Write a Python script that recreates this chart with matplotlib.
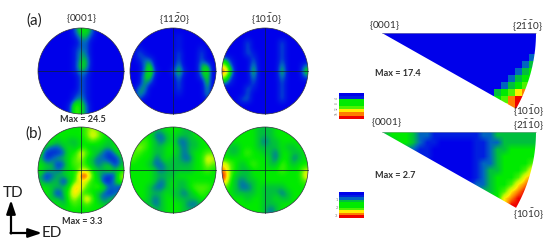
import matplotlib
matplotlib.use("Agg")
import numpy as np
import matplotlib.pyplot as plt
from matplotlib.colors import LinearSegmentedColormap
from matplotlib.patches import Circle, Polygon

plt.rcParams['font.family'] = ['Lato', 'DejaVu Sans']
plt.rcParams['mathtext.fontset'] = 'custom'
plt.rcParams['mathtext.rm'] = 'Lato'

# density levels, 0 = blue ... 9 = red
a_0001 = [
    [0,0,0,0,0,0,2,4,4,2,0,0,0,0,0],
    [0,0,0,0,0,0,1,3,3,1,0,0,0,0,0],
    [0,0,0,0,0,0,0,2,2,0,0,0,0,0,0],
    [0,0,0,0,0,0,1,2,2,0,0,0,0,0,0],
    [0,0,0,0,0,0,1,3,2,0,0,0,0,0,0],
    [0,0,0,0,0,0,1,3,3,0,0,0,0,0,0],
    [0,0,0,0,0,0,1,4,3,0,0,0,0,0,0],
    [0,0,0,0,0,0,1,3,2,0,0,0,0,0,0],
    [0,0,0,0,0,0,0,2,1,0,0,0,0,0,0],
    [0,0,0,0,0,0,0,2,1,0,0,0,0,0,0],
    [0,0,0,0,0,0,0,2,1,0,0,0,0,0,0],
    [0,0,0,0,0,0,1,2,1,0,0,0,0,0,0],
    [0,0,0,0,0,0,2,3,1,0,0,0,0,0,0],
    [0,0,0,0,0,1,5,4,2,0,0,0,0,0,0],
    [0,0,0,0,0,1,5,4,2,0,0,0,0,0,0],
]
a_1120 = [
    [0,0,0,0,0,0,0,0,0,0,0,0,0,0,0],
    [0,0,0,0,0,0,0,0,1,0,0,0,0,0,0],
    [0,0,0,0,0,0,0,0,1,0,0,0,0,0,0],
    [0,1,0,0,0,0,0,0,1,0,0,0,1,0,0],
    [0,2,1,0,0,0,0,0,2,0,0,0,2,0,0],
    [0,1,2,2,0,0,0,0,2,0,0,0,2,0,0],
    [0,0,2,4,0,0,0,0,3,0,0,0,3,3,0],
    [0,0,2,5,1,0,0,1,4,1,0,0,3,5,0],
    [0,0,3,4,0,0,0,0,3,0,0,0,2,4,0],
    [0,0,3,2,0,0,0,0,2,0,0,0,0,4,0],
    [0,2,3,0,0,0,0,0,2,0,0,0,0,3,0],
    [0,3,2,0,0,0,0,0,1,0,0,0,0,3,0],
    [0,2,0,0,0,0,0,0,0,0,0,0,0,1,2],
    [0,0,0,0,0,0,0,0,0,0,0,0,0,0,0],
    [0,0,0,0,0,0,0,0,0,0,0,0,0,0,0],
]
a_1010 = [
    [0,0,0,0,0,0,0,0,0,0,0,0,0,0,0],
    [0,0,0,0,0,0,0,0,0,0,0,0,0,0,0],
    [0,0,0,0,2,0,0,0,0,0,2,0,0,0,0],
    [0,0,0,0,2,0,0,0,0,0,2,0,0,0,0],
    [0,0,0,0,2,1,0,0,0,0,2,0,0,0,0],
    [3,1,0,0,0,2,0,0,0,0,2,0,0,0,0],
    [6,2,0,0,0,3,0,0,0,0,3,0,0,0,2],
    [9,4,0,0,0,4,0,0,0,0,4,0,0,0,4],
    [6,2,0,0,0,3,0,0,0,0,3,0,0,0,2],
    [3,1,0,0,0,2,0,0,0,0,2,0,0,0,0],
    [0,0,0,0,2,1,0,0,0,0,2,0,0,0,0],
    [0,0,0,0,2,0,0,0,0,0,2,0,0,0,0],
    [0,0,0,2,2,0,0,0,0,0,2,0,0,0,0],
    [0,0,0,0,0,0,0,0,0,0,0,0,0,0,0],
    [0,0,0,0,0,0,0,0,0,0,0,0,0,0,0],
]
b_0001 = [
    [4,4,4,4,4,4,4,4,5,6,5,4,4,4,4],
    [4,4,4,4,4,4,4,4,5,7,6,4,4,4,4],
    [4,4,4,3,4,3,3,4,4,5,4,4,3,4,4],
    [4,3,2,2,3,4,3,4,4,3,4,3,3,4,4],
    [4,1,1,1,2,4,4,7,5,4,3,2,1,3,4],
    [3,1,2,3,3,4,5,6,4,3,2,2,1,1,3],
    [4,3,3,1,2,4,5,5,4,3,2,3,3,1,3],
    [4,3,3,2,3,4,4,6,6,4,3,3,4,3,4],
    [3,1,2,3,3,4,4,9,9,5,3,2,1,2,6],
    [3,2,3,3,1,3,5,7,6,4,4,1,1,3,5],
    [4,4,3,3,3,4,8,7,5,4,5,4,2,2,1],
    [4,4,3,1,3,5,8,5,4,4,3,2,1,2,2],
    [4,4,3,3,2,5,6,4,8,5,3,2,3,3,4],
    [4,4,4,4,3,4,5,4,5,4,4,3,3,4,4],
    [4,4,4,4,4,4,4,4,4,4,4,4,4,4,4],
]
b_1120 = [
    [4,4,4,4,3,3,4,4,4,3,3,4,4,4,4],
    [4,4,4,4,2,2,3,4,3,3,3,4,4,4,4],
    [4,4,5,4,3,2,3,4,2,2,3,3,4,4,4],
    [4,6,5,4,3,3,4,4,3,2,3,3,4,4,4],
    [5,5,4,4,3,3,4,4,3,2,3,4,4,5,5],
    [5,4,4,4,2,3,4,3,3,2,2,4,4,7,6],
    [4,4,4,3,2,2,3,3,3,3,3,4,4,6,5],
    [4,4,4,4,3,2,3,3,3,3,3,4,4,5,4],
    [4,4,4,4,3,3,3,3,4,4,4,4,4,4,4],
    [4,4,4,4,3,2,3,4,3,3,4,4,4,4,4],
    [4,4,4,3,2,2,3,4,3,3,4,5,5,5,4],
    [4,4,4,3,3,3,4,3,3,2,3,4,5,4,4],
    [4,4,4,3,2,3,4,4,3,3,3,3,4,4,4],
    [4,4,3,3,2,3,4,4,4,3,2,2,3,4,4],
    [4,4,4,4,3,3,4,4,4,3,3,3,4,4,4],
]
b_1010 = [
    [4,4,4,4,4,4,3,3,3,4,4,4,4,4,4],
    [4,4,4,4,4,4,3,3,3,4,4,4,4,4,4],
    [4,4,4,4,4,4,3,2,3,3,4,4,4,4,4],
    [4,3,3,4,4,4,3,3,3,3,4,3,3,4,4],
    [4,3,3,4,5,4,4,3,3,2,4,4,3,3,4],
    [4,4,4,4,4,4,4,4,3,2,4,4,2,3,4],
    [7,5,4,3,4,5,4,4,3,3,5,4,3,4,4],
    [8,5,4,3,3,4,4,4,4,4,5,4,4,4,6],
    [9,5,3,3,3,4,4,4,4,4,4,4,4,4,7],
    [8,4,3,2,3,3,4,4,4,4,4,4,4,4,5],
    [5,4,3,2,2,3,4,3,3,3,3,4,4,4,4],
    [4,4,3,3,3,3,4,3,3,3,2,3,4,4,4],
    [4,4,4,4,3,4,4,3,3,4,3,3,4,4,4],
    [4,4,4,4,4,4,4,3,3,3,4,4,4,4,4],
    [4,4,4,4,4,4,4,3,2,3,4,4,4,4,4],
]

# inverse pole figures, 7 px cells from the {0001} corner
ipf_a = [
    [0,0,0,0,0,0,0,0,0,0,0,0,0,0,0,0,0,0,0,0,0,0],
    [0,0,0,0,0,0,0,0,0,0,0,0,0,0,0,0,0,0,0,0,0,0],
    [0,0,0,0,0,0,0,0,0,0,0,0,0,0,0,0,0,0,0,0,0,0],
    [0,0,0,0,0,0,0,0,0,0,0,0,0,0,0,0,0,0,0,0,0,2],
    [0,0,0,0,0,0,0,0,0,0,0,0,0,0,0,0,0,0,0,0,2,3],
    [0,0,0,0,0,0,0,0,0,0,0,0,0,0,0,0,0,0,0,2,3,4],
    [0,0,0,0,0,0,0,0,0,0,0,0,0,0,0,0,0,0,2,3,4,4],
    [0,0,0,0,0,0,0,0,0,0,0,0,0,0,0,0,0,2,3,4,5,5],
    [0,0,0,0,0,0,0,0,0,0,0,0,0,0,0,0,3,4,5,7,8,8],
    [0,0,0,0,0,0,0,0,0,0,0,0,0,0,0,2,4,5,8,9,9,9],
    [0,0,0,0,0,0,0,0,0,0,0,0,0,0,2,3,4,6,8,9,9,9],
]
ipf_b = [
    [3,4,4,4,3,2,2,1,1,1,1,1,1,1,2,2,3,3,3,3,3,3],
    [3,3,4,4,3,2,1,1,0,0,0,0,0,1,1,2,2,3,3,3,3,3],
    [1,1,2,2,2,1,1,0,0,0,0,0,0,1,1,2,3,3,4,4,4,4],
    [1,1,1,1,1,1,1,0,0,0,0,0,0,1,1,2,3,4,4,4,4,4],
    [1,1,1,1,1,1,0,0,0,0,0,0,0,1,2,2,3,4,4,4,4,5],
    [1,1,1,1,1,1,0,0,0,0,0,0,0,1,2,3,3,4,4,4,5,7],
    [1,1,1,1,1,1,0,0,0,0,0,0,0,1,2,3,4,4,4,5,7,8],
    [1,1,1,1,1,1,0,0,0,0,0,0,1,2,2,3,4,4,5,7,8,9],
    [1,1,1,1,1,1,0,0,0,0,0,0,1,2,3,3,4,5,7,8,9,9],
    [1,1,1,1,1,1,0,0,0,0,0,0,1,2,3,4,4,7,8,9,9,9],
    [1,1,1,1,1,1,0,0,0,0,0,0,1,2,3,4,5,7,9,9,9,9],
    [1,1,1,1,1,1,0,0,0,0,0,0,1,2,3,4,7,8,9,9,9,9],
]

legend_a = [0,1,4,4,5,7,8,9]
legend_b = [0,1,2,3,4,4,5,7,8,9]
legend_a_labels = ["4","8","12","16"]
legend_b_labels = ["1","2","3"]

pole_names = [r"{$\mathregular{0001}$}", r"{$\mathregular{11\bar{2}0}$}", r"{$\mathregular{10\bar{1}0}$}"]
ipf_names = [r"{$\mathregular{0001}$}", r"{$\mathregular{2\bar{1}\bar{1}0}$}", r"{$\mathregular{10\bar{1}0}$}"]

cmap = LinearSegmentedColormap.from_list("tex", [
    (0, 0, 0.92), (0, 0.12, 0.88), (0, 0.4, 0.75), (0, 0.75, 0.24), (0, 0.92, 0),
    (0.3, 0.95, 0), (0.75, 0.98, 0), (1, 0.94, 0), (1, 0.5, 0), (0.94, 0, 0)])

fig = plt.figure(figsize=(5.5, 2.42), dpi=100)
ax = fig.add_axes([0, 0, 1, 1])
ax.axis("off")


def pole(grid, cx, cy, r=43):
    im = ax.imshow(np.array(grid), extent=(cx - r, cx + r, cy + r, cy - r), cmap=cmap,
                   vmin=0, vmax=9, interpolation="bicubic", aspect="auto")
    c = Circle((cx, cy), r, fc="none", ec="#303040", lw=0.5)
    ax.add_patch(c)
    im.set_clip_path(c)
    ax.plot([cx - r, cx + r], [cy, cy], color="#102030", lw=0.5)
    ax.plot([cx, cx], [cy - r, cy + r], color="#102030", lw=0.5)


def wedge(grid, x0, y0, corners, interp):
    g = np.array(grid)
    im = ax.imshow(g, extent=(x0, x0 + 7 * g.shape[1], y0 + 7 * g.shape[0], y0), cmap=cmap,
                   vmin=0, vmax=9, interpolation=interp, aspect="auto")
    p = Polygon(corners, closed=True, fc="none", ec="none")
    ax.add_patch(p)
    im.set_clip_path(p)
    ax.plot([x0, corners[-1][0]], [y0, y0], color="#a0a0a0", lw=0.4)


def colour_key(levels, y0, y1):
    ax.imshow(np.array(levels).reshape(-1, 1), extent=(339, 364, y1, y0), cmap=cmap,
              vmin=0, vmax=9, interpolation="nearest", aspect="auto")


cols = [81, 173, 265]
for grid, cx in zip([a_0001, a_1120, a_1010], cols):
    pole(grid, cx, 71)
for grid, cx in zip([b_0001, b_1120, b_1010], cols):
    pole(grid, cx, 170)
for name, cx, lx in zip(pole_names, cols, [81, 174, 266]):
    ax.text(lx, 18.5, name, ha="center", va="center", fontsize=7.2, color="#303030")


def arc(x0, y0, a0, a1, R=154):
    t = np.radians(np.linspace(a0, a1, 20))
    return [(x0, y0)] + [(x0 + R * np.cos(v), y0 + R * np.sin(v)) for v in t[::-1]]


wedge(ipf_a, 382, 33, arc(382, 33, 0, 29.5), "nearest")
wedge(ipf_b, 382, 132, arc(382, 132, 0, 29.5), "bilinear")

colour_key(legend_a, 93, 119)
colour_key(legend_b, 192, 218)
for lab, y in zip(legend_a_labels, [98, 103, 108, 113]):
    ax.text(336.5, y, lab, ha="center", va="center", fontsize=2.2, color="#808080", rotation=90)
for lab, y in zip(legend_b_labels, [200, 208, 216]):
    ax.text(336.5, y, lab, ha="center", va="center", fontsize=3, color="#808080")

ax.text(384, 26, ipf_names[0], ha="center", va="center", fontsize=7.2, color="#303030")
ax.text(527, 26, ipf_names[1], ha="center", va="center", fontsize=7.2, color="#303030")
ax.text(528, 111, ipf_names[2], ha="center", va="center", fontsize=7.2, color="#303030")
ax.text(386, 123, ipf_names[0], ha="center", va="center", fontsize=7.2, color="#303030")
ax.text(528, 125, ipf_names[1], ha="center", va="center", fontsize=7.2, color="#303030")
ax.text(528, 214, ipf_names[2], ha="center", va="center", fontsize=7.2, color="#303030")

ax.text(83, 120, "Max = 24.5", ha="center", va="center", fontsize=6.6, fontweight="bold", color="#303030")
ax.text(82, 221, "Max = 3.3", ha="center", va="center", fontsize=6.6, fontweight="bold", color="#303030")
ax.text(375, 74, "Max = 17.4", ha="left", va="center", fontsize=6.6, fontweight="bold", color="#303030")
ax.text(375, 175, "Max = 2.7", ha="left", va="center", fontsize=6.6, fontweight="bold", color="#303030")

ax.text(34, 20.5, "(a)", ha="center", va="center", fontsize=11, color="#202020")
ax.text(34, 134, "(b)", ha="center", va="center", fontsize=11, color="#202020")
ax.text(13, 193, "TD", ha="center", va="center", fontsize=11, color="#202020")
ax.text(52, 233, "ED", ha="center", va="center", fontsize=11, color="#202020")

style = dict(arrowstyle="-|>,head_length=0.9,head_width=0.3", color="black", lw=1.6, shrinkA=0, shrinkB=0, mutation_scale=9)
ax.annotate("", xy=(11, 200), xytext=(11, 233.5), arrowprops=style)
ax.annotate("", xy=(42, 233), xytext=(10.5, 233), arrowprops=style)

ax.set_xlim(0, 550)
ax.set_ylim(242, 0)
fig.savefig("out.png", dpi=100)
